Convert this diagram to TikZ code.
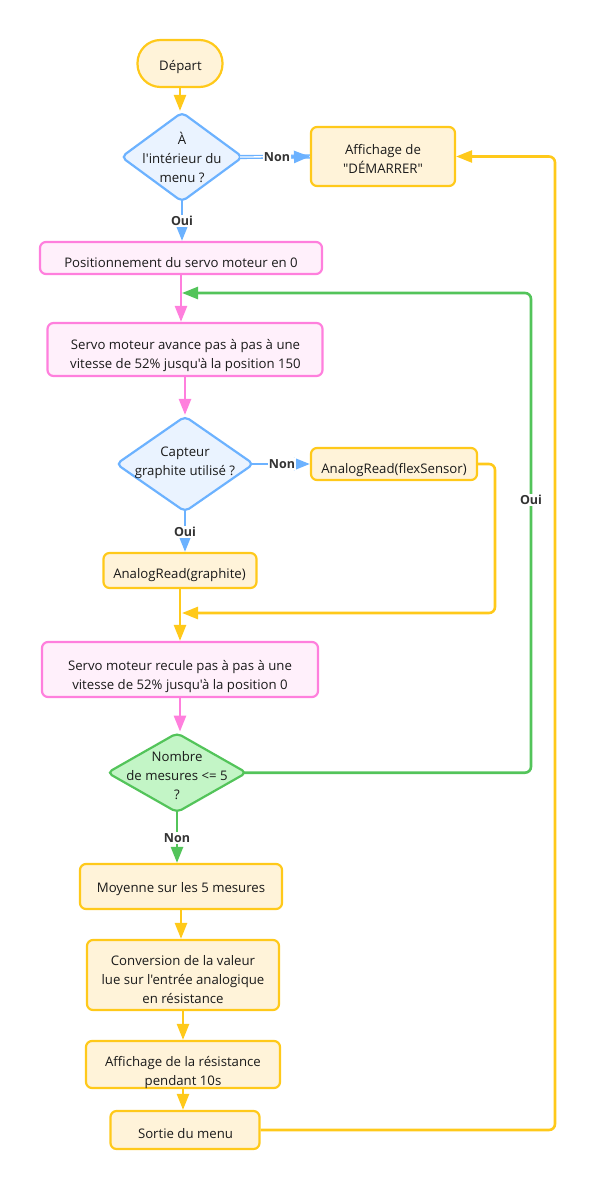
\documentclass[tikz,border=0pt]{standalone}
\usepackage{fontspec}
\setmainfont{Open Sans}[Ligatures=TeXOff]
\usetikzlibrary{shapes.geometric,arrows.meta}

\definecolor{ystroke}{HTML}{FFC91A}
\definecolor{yfill}{HTML}{FFF3D9}
\definecolor{pstroke}{HTML}{FF7FDD}
\definecolor{pfill}{HTML}{FFF0FB}
\definecolor{bstroke}{HTML}{6CB2FF}
\definecolor{bfill}{HTML}{EAF3FF}
\definecolor{gstroke}{HTML}{53C45A}
\definecolor{gfill}{HTML}{C3F5C6}
\definecolor{ink}{HTML}{1A1A1A}
\definecolor{lbl}{HTML}{333333}

\tikzset{
  box/.style={rectangle, rounded corners=6pt, line width=2.2pt, inner sep=0pt},
  ybox/.style={box, draw=ystroke, fill=yfill},
  pbox/.style={box, draw=pstroke, fill=pfill},
  decision/.style={diamond, rounded corners=5pt, line width=2.2pt, inner sep=0pt},
  bdec/.style={decision, draw=bstroke, fill=bfill},
  gdec/.style={decision, draw=gstroke, fill=gfill},
  txt/.style={align=center, inner sep=0pt, text depth=3pt, text=ink,
              font=\fontsize{13.2}{19}\selectfont},
  flow/.style={line width=2.6pt, -{Triangle[length=16pt,width=12pt]}},
  yflow/.style={flow, draw=ystroke, color=ystroke},
  pflow/.style={flow, draw=pstroke, color=pstroke},
  bflow/.style={flow, draw=bstroke, color=bstroke},
  gflow/.style={flow, draw=gstroke, color=gstroke},
  edgelabel/.style={font=\bfseries\fontsize{12.5}{14}\selectfont, text=lbl,
                    fill=white, inner sep=1pt},
}

\begin{document}
\begin{tikzpicture}[x=1pt, y=-1pt]
\path[use as bounding box] (0,0) rectangle (596,1190);

% start / menu test
\node[ybox, rounded corners=23pt, minimum width=85pt, minimum height=47pt] (start) at (180,63.5) {};
\node[txt] (startT) at (180.5,66.5) {Départ};
\node[bdec, minimum width=122pt, minimum height=90pt] (d1) at (182,157) {};
\node[txt] (d1T) at (182,158.5) {À\\l'intérieur du\\menu ?};
\node[ybox, minimum width=144pt, minimum height=59pt] (show) at (383,156.5) {};
\node[txt] (showT) at (383,160) {Affichage de\\"DÉMARRER"};

% measurement cycle
\node[pbox, minimum width=282pt, minimum height=32pt] (pos0) at (181,258) {};
\node[txt] (pos0T) at (181,264) {Positionnement du servo moteur en 0};
\node[pbox, minimum width=275pt, minimum height=53pt] (fwd) at (185,349.5) {};
\node[txt] (fwdT) at (185.5,355) {Servo moteur avance pas à pas à une\\vitesse de 52\% jusqu'à la position 150};
\node[bdec, minimum width=138pt, minimum height=96pt] (d2) at (185,464) {};
\node[txt] (d2T) at (185,462.5) {Capteur\\graphite utilisé ?};
\node[ybox, minimum width=166pt, minimum height=32pt] (flex) at (394,464) {};
\node[txt] (flexT) at (394,469.5) {AnalogRead(flexSensor)};
\node[ybox, minimum width=153pt, minimum height=35pt] (graph) at (180,570.5) {};
\node[txt] (graphT) at (179.5,574.5) {AnalogRead(graphite)};
\node[pbox, minimum width=276pt, minimum height=55pt] (back) at (180,669.5) {};
\node[txt] (backT) at (180,676) {Servo moteur recule pas à pas à une\\vitesse de 52\% jusqu'à la position 0};
\node[gdec, minimum width=140pt, minimum height=80pt] (d3) at (177,772.7) {};
\node[txt] (d3T) at (177,776.5) {Nombre\\de mesures <= 5\\?};

% result
\node[ybox, minimum width=202pt, minimum height=45pt] (avg) at (181,886.5) {};
\node[txt] (avgT) at (181,888.5) {Moyenne sur les 5 mesures};
\node[ybox, minimum width=192pt, minimum height=70pt] (conv) at (183,975) {};
\node[txt] (convT) at (183,981) {Conversion de la valeur\\lue sur l'entrée analogique\\en résistance};
\node[ybox, minimum width=194pt, minimum height=47pt] (disp) at (183,1064.5) {};
\node[txt] (dispT) at (183,1072) {Affichage de la résistance\\pendant 10s};
\node[ybox, minimum width=149pt, minimum height=38pt] (quit) at (185,1130) {};
\node[txt] (quitT) at (185.5,1134.5) {Sortie du menu};

% loop junctions
\coordinate (gj) at (182,293);
\coordinate (yj) at (182,613);

% connectors (labels are laid over them afterwards); the ones leaving a
% decision start a little inside its rounded tip
\draw[yflow] (start.south) -- (start.south |- d1.north);
\draw[draw=bstroke, line width=1.4pt, double=white, double distance=1.3pt] ([xshift=-4pt]d1.east) -- (show.west);
\draw[bflow] ([yshift=4pt]d1.south) -- (d1.south |- pos0.north);
\draw[pflow] (pos0.south) -- (pos0.south |- fwd.north);
\draw[pflow] (fwd.south) -- (fwd.south |- d2.north);
\draw[bflow] ([xshift=-4pt]d2.east) -- (flex.west);
\draw[bflow] ([yshift=4pt]d2.south) -- (d2.south |- graph.north);
\draw[yflow, rounded corners=6pt] (flex.east) -- (495,464) -- (495,613) -- (yj);
\draw[yflow] (graph.south) -- (graph.south |- back.north);
\draw[pflow] (back.south) -- (back.south |- d3.north);
\draw[gflow, rounded corners=6pt] ([xshift=-4pt]d3.east) -- (531,772.7) -- (531,293) -- (gj);
\draw[gflow] ([yshift=4pt]d3.south) -- (d3.south |- avg.north);
\draw[yflow] (avg.south) -- (avg.south |- conv.north);
\draw[yflow] (conv.south) -- (conv.south |- disp.north);
\draw[yflow] (disp.south) -- (disp.south |- quit.north);
\draw[yflow, rounded corners=6pt] (quit.east) -- (555,1130) -- (555,156.5) -- (show.east);

% edge labels
\node[edgelabel] (l1) at (277,157) {Non};
\draw[bflow] (l1.east) -- (show.west);
\node[edgelabel] (l2) at (182,221) {Oui};
\node[edgelabel] (l3) at (282,464) {Non};
\node[edgelabel] (l4) at (185,532) {Oui};
\node[edgelabel] (l5) at (531,500) {Oui};
\node[edgelabel] (l6) at (177,838) {Non};
\end{tikzpicture}
\end{document}
